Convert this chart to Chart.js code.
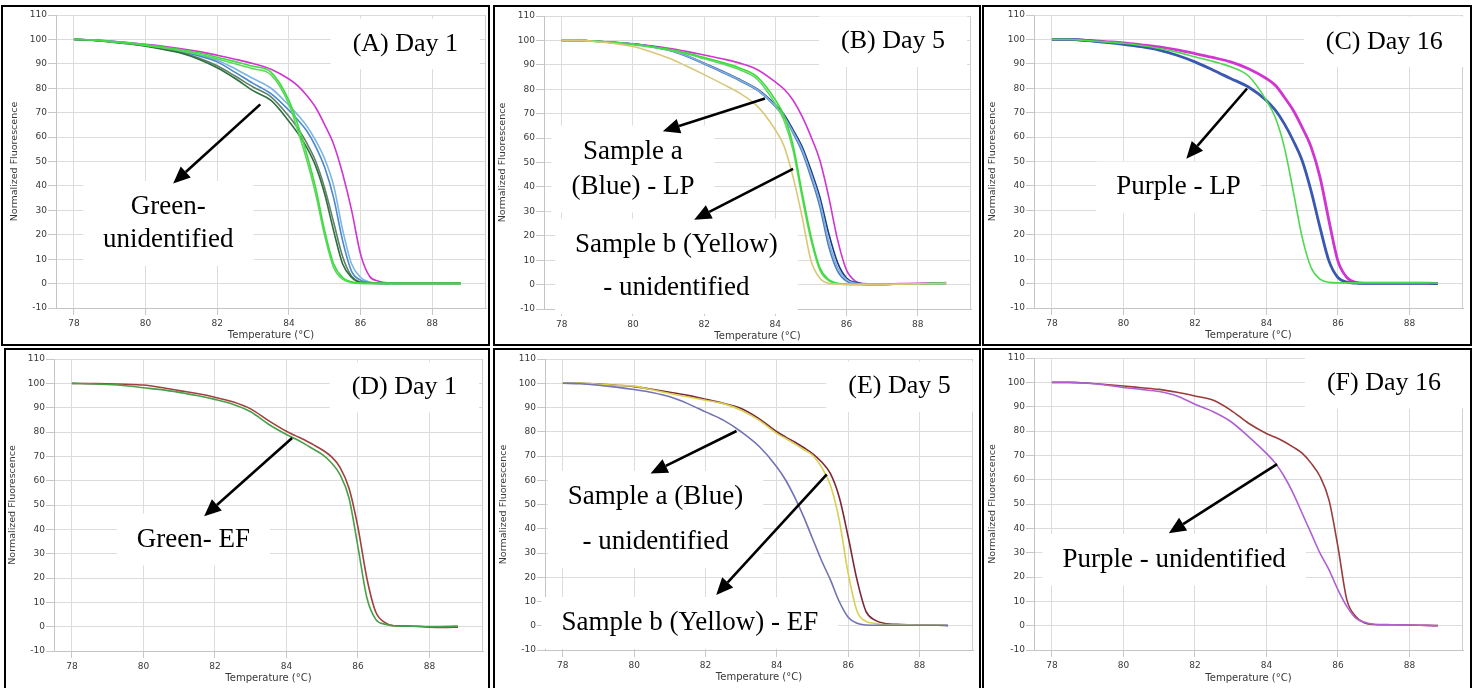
<!DOCTYPE html>
<html><head><meta charset="utf-8">
<script src="https://cdn.jsdelivr.net/npm/chart.js@4.4.1/dist/chart.umd.min.js"></script>
<style>
html,body{margin:0;padding:0;background:#fff;}
#page{position:relative;width:1479px;height:688px;overflow:hidden;background:#fff;}
.panel{position:absolute;border:2px solid #000;box-sizing:border-box;z-index:2;pointer-events:none;}
canvas{position:absolute;z-index:1;}
</style></head><body><div id="page"></div>
<script>
// ---------- data ----------
const temps = [78,78.5,79,79.5,80,80.5,81,81.5,82,82.5,83,83.5,84,84.25,84.5,84.75,85,85.25,85.5,85.75,86,86.25,86.5,86.75,87,87.5,88,88.5,88.8];
const xTickValues = [78,80,82,84,86,88];
const yMin = -10, yMax = 110, yStep = 10;
const panelTitles = ['(A) Day 1','(B) Day 5','(C) Day 16','(D) Day 1','(E) Day 5','(F) Day 16'];
const xAxisTitle = 'Temperature (°C)';
const yAxisTitle = 'Normalized Fluorescence';

// Panel A (Day 1)
const aGreen1    = [100,99.8,99.2,98.6,97.8,96.9,95.8,94.4,92.7,90.9,89,86.6,75,65,53,39,21.5,8,2.5,0.7,0.2,0.1,0.1,0.1,0.1,0.1,0.1,0.1,0.1];
const aGreen2    = [100,99.8,99.1,98.4,97.5,96.5,95.3,93.8,92,90,88,85.5,73.5,62.5,50.5,36.5,19.5,6.5,1.8,0.4,0.1,0.1,0.1,0.1,0.1,0.1,0.1,0.1,0.1];
const aDarkGreen = [100,99.7,99,98.2,97.2,95.9,94.3,91.8,88.4,84,79,75,66.5,61.5,55.7,48,36.6,21.5,8,2.5,0.4,0.2,0.1,0.1,0.1,0.1,0.1,0.1,0.1];
const aGrayGreen = [100,99.7,99,98.3,97.4,96.1,94.6,92.3,89.2,85,80.5,76.5,68.5,63.5,57.5,50,39,25,11,3,0.6,0.2,0.1,0.1,0.1,0.1,0.1,0.1,0.1];
const aBlue      = [100,99.8,99.2,98.5,97.6,96.4,95,93.2,90.8,86.5,82,77.8,71,67,62.5,56,47.5,35,17.5,5,1.4,0.4,0.2,0.1,0.1,0.1,0.1,0.1,0.1];
const aLightBlue = [100,99.8,99.3,98.6,97.8,96.7,95.4,93.7,91.5,88,84,80,73,69,64.5,58.5,51,40,22,8,2.5,0.6,0.2,0.1,0.1,0.1,0.1,0.1,0.1];
const aMagenta   = [100,99.8,99.3,98.7,98,97.2,96.2,95,93.5,91.9,90.1,87.8,83.8,81,77,72,65,57,45,30,12,3,1,0.3,0.2,0.2,0.2,0.2,0.2];

// Panel B (Day 5)
const bYellow    = [100,100,99.4,98.7,97.5,95.4,92.8,89.5,86,82.3,78.4,73,63.4,56.6,44,28,10,2.7,0.5,0.2,0.1,0.1,0.1,0.1,0.1,0.2,0.3,0.4,0.5];
const bGreen1    = [100,100,99.6,99.1,98.4,97.5,96.4,94.9,93,91,88.7,85,75.7,69,57,38,20,7,2,0.5,0.2,0.1,0.1,0.1,0.1,0.2,0.3,0.5,0.6];
const bGreen2    = [100,100,99.5,99,98.2,97.3,96.1,94.5,92.5,90.4,88,84,74,67,55,36,18.5,6,1.6,0.4,0.1,0.1,0.1,0.1,0.1,0.2,0.3,0.4,0.5];
const bLightBlue = [100,100,99.6,99.1,98.5,97.5,96.1,93.8,90.6,87.3,83.8,79.8,73.3,68.8,62.5,55.5,45.5,34,18,7,2,0.5,0.1,0.1,0.1,0.2,0.3,0.4,0.5];
const bBlue      = [100,100,99.6,99.1,98.5,97.4,96,93.5,90.3,87,83.5,79.5,73,68.5,62,54.5,44,32,15.7,5.5,1.4,0.4,0.1,0.1,0.1,0.2,0.3,0.4,0.5];
const bNavy      = [100,100,99.6,99.1,98.6,97.6,96.2,93.8,90.7,87.5,84,80,73.7,69.6,63.4,56.6,47,36,21,9,2.7,0.8,0.2,0.1,0.1,0.2,0.3,0.4,0.5];
const bMagenta   = [100,100,99.6,99.2,98.6,97.8,96.8,95.5,94,92.5,90.7,88,83,80,75.5,69,60.7,51,36,18.4,6,1.4,0.4,0.3,0.3,0.4,0.5,0.7,0.8];

// Panel C (Day 16)
const cGreen     = [100,100,99.5,99,98.4,97.5,96.3,94.8,92.9,91,88.8,85,75,68,56,38,19,6.6,1.8,0.5,0.3,0.3,0.3,0.3,0.3,0.3,0.3,0.3,0.2];
const cBlue      = [100,100,99.5,98.8,98,97,95.6,93.5,90.8,87.5,84,80.5,75,71,65.5,58.6,50.4,38,23,9.3,2.5,0.6,0.2,0.1,0.1,0.1,0.1,0.1,0];
const cMagenta   = [100,100,99.6,99.1,98.6,97.8,96.9,95.7,94.2,92.6,90.8,88,84,81.2,76.4,71,64,56,43.6,25.8,9.3,2.5,0.5,0.2,0.2,0.2,0.2,0.2,0];

// Panel D (Day 1)
const dGreen     = [100,99.8,99.5,99,98.2,97.4,96.3,95,93.4,91.4,88.3,83.2,79,77.2,75.2,73,70.8,67.5,62.5,53,33,12,3,1,0.4,0.2,0,0.1,0.3];
const dRed       = [100,99.9,99.8,99.6,99.3,98.3,97,95.8,94.3,92.4,89.5,84.7,80.3,78.5,76.8,74.8,72.7,70,65.5,57,41,20,6,1.8,0.4,0.3,-0.2,-0.3,-0.2];

// Panel E (Day 5)
const eBlue      = [100,99.8,99.2,98.4,97.4,96.2,94.4,91.6,88.2,84.8,80,74,65.5,60,53,45,36,27,19,10,3.5,1,0.3,0.2,0.2,0.2,0.2,0.2,0.2];
const eYellow    = [100,100,99.6,99.2,98.8,97.3,95.8,94.4,93,91.6,88.9,84.8,79.3,77.2,75,72.7,70.3,65.5,58,43.5,21.6,6,1.8,1,0.5,0.4,0.3,0.3,0.2];
const eMaroon    = [100,100,99.7,99.2,98.6,97.5,96.3,95,93.4,91.7,89.6,85.4,80,77.8,75.8,73.5,71,67.6,62.8,53,36.7,18.8,5.9,2.3,1,0.5,0.3,0.2,0];

// Panel F (Day 16)
const fPurple    = [100,100,99.6,98.9,97.9,97.1,96.2,94.4,91,88,83.9,77.7,70.8,66.8,61.3,54.4,46.2,38,29.8,23,14.8,7.9,3.1,1.4,0.6,0.4,0.3,0.1,0];
const fBrown     = [100,100,99.7,99.1,98.5,97.8,97.1,95.9,94.4,92.7,88.6,83.2,79,77.4,75.6,73.4,70.9,66.8,61.3,51.7,32.6,10.7,3.8,1.1,0.5,0.4,0.3,0.1,0];

// ---------- layout & style ----------
const panels = [
  { box:{left:1,top:5,width:489,height:341}, plot:{l:56,r:486,t:15,b:308}, xTitleY:335,
    series:[[aGreen1,'#3fdc3f'],[aGreen2,'#5fd65f'],[aDarkGreen,'#2f6f3f'],[aGrayGreen,'#5f7f6a'],[aBlue,'#4a88cc'],[aLightBlue,'#7cb4e4'],[aMagenta,'#d035d0']],
    title:[87.25,98.2],
    groups:[[['Green-',80.63,31.4],['unidentified',80.63,17.8]]],
    arrows:[[83.2,73.4,80.77,41]] },
  { box:{left:493,top:5,width:488,height:341}, plot:{l:544,r:971,t:16,b:309}, xTitleY:336,
    series:[[bYellow,'#d8c878'],[bGreen1,'#3fdc3f'],[bGreen2,'#62d662'],[bLightBlue,'#80b0e0'],[bBlue,'#4a7cc0'],[bNavy,'#1f3a80'],[bMagenta,'#d035d0']],
    title:[87.31,99.5],
    groups:[[['Sample a',80.0,54.5],['(Blue) - LP',80.0,40.1]],[['Sample b (Yellow)',81.22,16.4],['- unidentified',81.22,-1.4]]],
    arrows:[[83.71,76.2,80.84,62.8],[84.5,47.4,81.72,26.6]] },
  { box:{left:982,top:5,width:490,height:341}, plot:{l:1034,r:1463,t:15,b:308}, xTitleY:335,
    series:[[cGreen,'#4ed84e',1.6],[cBlue,'#3a58b0',2.8],[cMagenta,'#d035d0',2.8]],
    title:[87.3,99],
    groups:[[['Purple - LP',81.54,39.4]]],
    arrows:[[83.46,79.9,81.76,51.1]] },
  { box:{left:4,top:348,width:486,height:344}, plot:{l:54,r:483,t:359,b:651}, xTitleY:678,
    series:[[dGreen,'#48a048'],[dRed,'#a04040']],
    title:[87.3,98.4],
    groups:[[['Green- EF',81.4,35.8]]],
    arrows:[[84.16,77.5,81.7,45.4]] },
  { box:{left:493,top:348,width:488,height:344}, plot:{l:545,r:973,t:359,b:650}, xTitleY:677,
    series:[[eBlue,'#7272b4'],[eYellow,'#d8d050'],[eMaroon,'#7a2838']],
    title:[87.44,98.6],
    groups:[[['Sample a (Blue)',80.6,53.2],['- unidentified',80.6,34.4]],[['Sample b (Yellow) - EF',81.56,1.2]]],
    arrows:[[82.87,80.3,80.46,62.8],[85.4,62.4,82.3,12.7]] },
  { box:{left:982,top:348,width:490,height:344}, plot:{l:1034,r:1463,t:358,b:650}, xTitleY:678,
    series:[[fPurple,'#b060d0'],[fBrown,'#9a3c3c']],
    title:[87.29,99.6],
    groups:[[['Purple - unidentified',81.42,27.1]]],
    arrows:[[84.3,66.4,81.27,38]] }
];

const TICK_FONT = {family:'DejaVu Sans', size:9};
const TITLE_FONT = {family:'DejaVu Sans', size:10};
const YTITLE_FONT = {family:'DejaVu Sans', size:9.5};
const ANN_FONT = '27px "Liberation Serif", "Times New Roman", serif';
const HEAD_FONT = '26px "Liberation Serif", "Times New Roman", serif';

function drawArrow(ctx, x1, y1, x2, y2) {
  const ang = Math.atan2(y2 - y1, x2 - x1);
  const hl = 17, hw = 7.5;
  const bx = x2 - hl * Math.cos(ang), by = y2 - hl * Math.sin(ang);
  ctx.save();
  ctx.strokeStyle = '#000'; ctx.lineWidth = 2.6;
  ctx.beginPath(); ctx.moveTo(x1, y1); ctx.lineTo(bx, by); ctx.stroke();
  ctx.fillStyle = '#000';
  ctx.beginPath();
  ctx.moveTo(x2, y2);
  ctx.lineTo(bx + hw * Math.sin(ang), by - hw * Math.cos(ang));
  ctx.lineTo(bx - hw * Math.sin(ang), by + hw * Math.cos(ang));
  ctx.closePath(); ctx.fill();
  ctx.restore();
}

function drawTextGroup(ctx, chart, lines, font, size, padX, padY) {
  const xs = chart.scales.x, ys = chart.scales.y;
  ctx.save();
  ctx.font = font;
  let L = Infinity, R = -Infinity, T = Infinity, B = -Infinity;
  const placed = lines.map(([txt, x, y]) => {
    const cx = xs.getPixelForValue(x), cy = ys.getPixelForValue(y);
    const w = ctx.measureText(txt).width;
    L = Math.min(L, cx - w / 2); R = Math.max(R, cx + w / 2);
    T = Math.min(T, cy - size * 0.55); B = Math.max(B, cy + size * 0.55);
    return [txt, cx, cy];
  });
  ctx.fillStyle = '#fff';
  ctx.fillRect(L - padX, T - padY, (R - L) + 2 * padX, (B - T) + 2 * padY);
  ctx.fillStyle = '#000';
  ctx.textAlign = 'center'; ctx.textBaseline = 'middle';
  placed.forEach(([txt, cx, cy]) => ctx.fillText(txt, cx, cy));
  ctx.restore();
}

function makeAnnotPlugin(p, idx) {
  return {
    id: 'annot' + idx,
    beforeDatasetsDraw(chart) {
      const ctx = chart.ctx, ca = chart.chartArea;
      ctx.save();
      ctx.strokeStyle = '#cfcfcf'; ctx.lineWidth = 1;
      ctx.beginPath(); ctx.moveTo(Math.round(ca.right) - 0.5, ca.top); ctx.lineTo(Math.round(ca.right) - 0.5, ca.bottom); ctx.stroke();
      ctx.restore();
      drawTextGroup(ctx, chart, [[panelTitles[idx], p.title[0], p.title[1]]], HEAD_FONT, 26, 22, 11);
      p.groups.forEach(g => drawTextGroup(ctx, chart, g, ANN_FONT, 27, 20, 11));
    },
    afterDatasetsDraw(chart) {
      const xs = chart.scales.x, ys = chart.scales.y;
      p.arrows.forEach(([x1, y1, x2, y2]) => drawArrow(chart.ctx,
        xs.getPixelForValue(x1), ys.getPixelForValue(y1),
        xs.getPixelForValue(x2), ys.getPixelForValue(y2)));
    }
  };
}

const page = document.getElementById('page');
panels.forEach((p, idx) => {
  const div = document.createElement('div');
  div.className = 'panel';
  Object.assign(div.style, {left: p.box.left + 'px', top: p.box.top + 'px', width: p.box.width + 'px', height: p.box.height + 'px'});
  page.appendChild(div);
  const cl = p.box.left + 2, ct = p.box.top + 2, cw = p.box.width - 4, ch = p.box.height - 4;
  const cv = document.createElement('canvas');
  cv.width = cw; cv.height = ch;
  Object.assign(cv.style, {left: cl + 'px', top: ct + 'px', width: cw + 'px', height: ch + 'px'});
  page.appendChild(cv);

  const yW = p.plot.l - cl;
  const xH = (ct + ch) - p.plot.b;
  const xTitleOffset = (ct + ch) - p.xTitleY;
  const yTitleOffset = (p.plot.l - 41) - cl;

  new Chart(cv, {
    type: 'line',
    data: {
      datasets: p.series.map(([vals, color, w]) => ({
        data: temps.map((t, i) => ({x: t, y: vals[i]})),
        borderColor: color, borderWidth: w || 1.6,
        pointRadius: 0, fill: false, cubicInterpolationMode: 'monotone'
      }))
    },
    options: {
      responsive: false, animation: false, devicePixelRatio: 1, events: [],
      layout: {padding: {left: 0, right: (cl + cw) - p.plot.r, top: p.plot.t - ct, bottom: 0}},
      plugins: {legend: {display: false}, tooltip: {enabled: false}},
      scales: {
        x: {
          type: 'linear', min: 77.5, max: 89.5,
          afterBuildTicks: s => { s.ticks = xTickValues.map(v => ({value: v})); },
          afterFit: s => { s.height = xH; },
          grid: {color: '#dcdcdc', tickColor: '#c8c8c8', tickLength: 7},
          border: {color: '#c4c4c4'},
          ticks: {font: TICK_FONT, color: '#383838', padding: 3, maxRotation: 0, autoSkip: false},
          title: {display: true, text: xAxisTitle, font: TITLE_FONT, color: '#383838',
                  padding: {top: 0, bottom: xTitleOffset - TITLE_FONT.size * 0.6}}
        },
        y: {
          min: yMin, max: yMax,
          afterFit: s => { s.width = yW; },
          grid: {color: '#dcdcdc', tickColor: '#c8c8c8', tickLength: 8},
          border: {color: '#c4c4c4'},
          ticks: {stepSize: yStep, font: TICK_FONT, color: '#383838', padding: 1},
          title: {display: true, text: yAxisTitle, font: YTITLE_FONT, color: '#383838',
                  padding: {top: yTitleOffset - YTITLE_FONT.size * 0.6, bottom: 0}}
        }
      }
    },
    plugins: [makeAnnotPlugin(p, idx)]
  });
});
</script>
</body></html>
